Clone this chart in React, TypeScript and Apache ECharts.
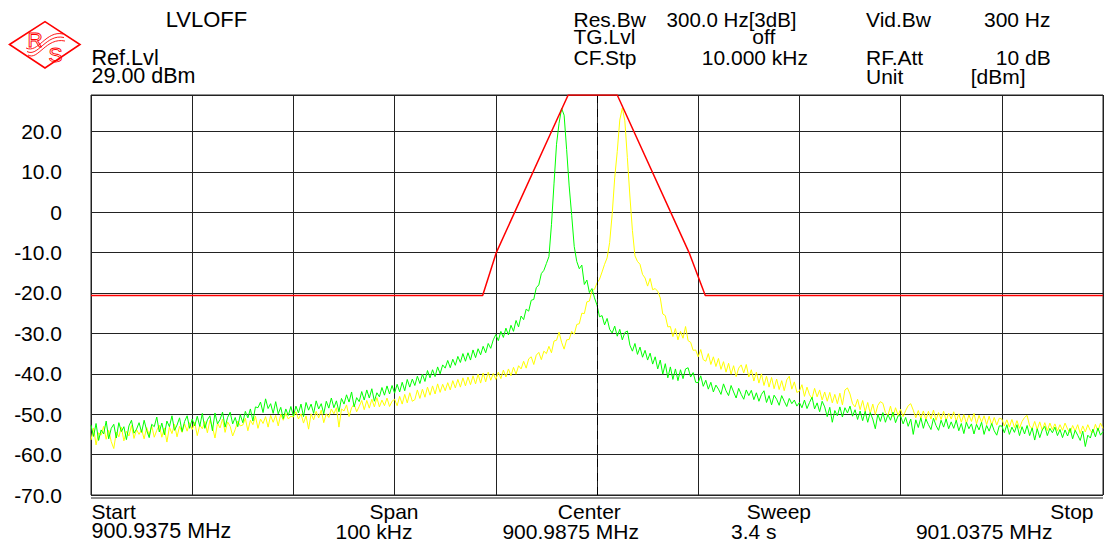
import React, { useEffect, useRef } from "react";
import * as echarts from "echarts";

// frequency offset from Start, in kHz (span 100 kHz), sample step
const STEP_KHZ = 0.25;

// trace 1 (green), dBm, one value every 0.25 kHz from 0 to 100 kHz
const GREEN = [
  -52.7, -55.5, -52.3, -56.5, -53.9, -54.9, -51.7, -56.1, -53.5, -52.5, -55.9, -52.1, -54.3, -53.1, -56.3, -52.9, -51.5, -54.7, -53.7, -52.1,
  -54.5, -51.5, -54.0, -55.8, -52.5, -53.1, -50.7, -54.4, -52.2, -55.1, -51.7, -53.1, -50.4, -54.0, -52.7, -50.9, -54.3, -51.8, -50.4, -53.5,
  -51.2, -52.9, -50.5, -53.0, -49.8, -53.5, -51.4, -50.4, -54.1, -49.7, -52.4, -51.3, -49.5, -53.2, -50.8, -49.5, -52.4, -50.8, -53.1, -50.1,
  -52.1, -49.3, -50.9, -48.7, -51.7, -48.2, -48.4, -47.0, -49.6, -46.2, -48.6, -47.4, -49.8, -46.9, -49.9, -48.3, -51.1, -48.7, -50.3, -48.1,
  -50.5, -48.0, -49.7, -47.5, -50.6, -47.1, -49.0, -47.5, -49.8, -46.7, -48.7, -47.4, -49.9, -46.8, -48.5, -46.0, -48.4, -46.7, -49.4, -46.1,
  -47.5, -45.2, -47.0, -44.5, -48.2, -45.9, -46.9, -44.4, -46.5, -44.0, -46.0, -43.7, -46.8, -44.7, -45.7, -43.4, -45.3, -43.0, -45.0, -42.9,
  -44.8, -42.6, -44.5, -42.1, -44.2, -41.4, -43.3, -41.3, -42.9, -40.6, -42.4, -40.1, -41.9, -39.2, -41.0, -39.0, -40.7, -38.3, -40.0, -37.8,
  -38.6, -36.7, -38.5, -36.4, -37.9, -35.7, -37.2, -35.0, -36.9, -34.8, -36.6, -34.1, -36.0, -33.8, -35.3, -33.2, -34.8, -32.5, -33.7, -31.6,
  -30.3, -31.8, -29.5, -31.0, -28.7, -30.4, -28.0, -29.5, -26.8, -28.4, -25.7, -26.6, -24.0, -24.5, -21.8, -21.6, -18.7, -18.0, -15.2, -14.4,
  -12.7, -11.0, -3.1, 7.0, 16.8, 22.0, 25.7, 24.0, 15.5, 6.5, -0.8, -8.5, -12.2, -14.0, -13.1, -17.9, -16.8, -19.9, -18.9, -21.2,
  -23.0, -25.9, -25.6, -27.9, -26.3, -29.0, -29.9, -28.2, -30.7, -29.0, -31.6, -29.8, -29.4, -32.9, -34.4, -32.5, -35.2, -33.4, -35.9, -34.2,
  -36.6, -34.9, -37.6, -35.8, -38.8, -36.6, -40.1, -37.5, -41.0, -38.3, -41.4, -38.8, -41.7, -39.0, -41.2, -38.8, -38.5, -40.8, -39.7, -42.1,
  -42.2, -40.5, -43.1, -41.6, -43.8, -42.1, -44.5, -42.8, -43.8, -45.1, -42.5, -44.2, -45.4, -42.9, -44.5, -46.0, -43.6, -45.1, -46.3, -44.0,
  -45.4, -44.1, -46.4, -44.7, -46.8, -45.1, -44.2, -47.1, -45.4, -47.7, -45.3, -46.3, -47.8, -45.4, -46.8, -48.1, -46.1, -47.4, -46.5, -48.0,
  -47.1, -48.4, -46.5, -48.6, -47.1, -45.8, -48.7, -47.2, -49.4, -46.8, -48.2, -50.6, -48.3, -52.0, -49.1, -50.4, -48.2, -50.7, -48.4, -49.7,
  -48.0, -50.5, -48.9, -51.3, -49.2, -51.6, -49.3, -52.0, -49.6, -51.2, -53.6, -50.0, -51.8, -49.6, -52.0, -50.1, -51.5, -49.5, -52.1, -50.4,
  -50.4, -52.4, -50.8, -53.0, -51.2, -55.0, -51.4, -53.3, -50.9, -53.5, -51.2, -52.6, -53.8, -51.0, -52.8, -54.0, -51.5, -53.2, -51.2, -53.6,
  -51.9, -53.5, -51.5, -54.1, -52.3, -54.8, -52.0, -53.6, -52.4, -54.9, -52.5, -53.9, -52.0, -55.0, -52.8, -54.2, -52.3, -54.1, -55.2, -52.9,
  -52.9, -54.6, -52.6, -55.0, -53.2, -54.5, -52.6, -55.3, -53.1, -54.9, -52.8, -55.3, -53.4, -56.4, -53.6, -55.8, -53.9, -53.0, -55.3, -53.5,
  -54.6, -53.2, -55.3, -53.8, -55.8, -53.9, -55.4, -53.5, -56.1, -54.0, -55.2, -56.5, -54.2, -58.0, -55.2, -55.9, -53.7, -55.6, -53.4, -55.2, -54.3,
];

// trace 2 (yellow), dBm, same frequency grid
const YELLOW = [
  -56.4, -53.4, -57.6, -54.6, -55.2, -53.0, -56.2, -54.0, -56.8, -58.5, -54.4, -55.6, -53.2, -56.6, -54.2, -55.4, -52.8, -56.0, -53.8, -55.0,
  -53.8, -56.1, -53.3, -55.2, -52.9, -55.7, -54.0, -52.7, -55.7, -53.4, -56.9, -53.2, -54.8, -52.5, -55.6, -53.0, -54.5, -52.4, -54.2, -52.1,
  -53.8, -52.0, -55.3, -52.7, -53.6, -51.8, -54.6, -51.5, -53.1, -55.9, -52.2, -53.4, -51.2, -54.5, -51.9, -53.0, -55.4, -53.8, -51.7, -52.9,
  -52.7, -51.0, -54.1, -51.5, -52.6, -50.5, -53.5, -51.2, -52.3, -50.6, -53.2, -50.3, -52.0, -50.3, -52.9, -50.0, -51.5, -49.8, -51.2, -50.5,
  -50.7, -49.4, -51.2, -49.9, -52.2, -50.4, -53.7, -49.9, -51.4, -49.3, -50.9, -49.0, -52.1, -49.9, -50.8, -48.7, -49.9, -48.4, -53.2, -48.7,
  -49.2, -47.7, -50.6, -48.4, -47.5, -49.4, -48.1, -46.6, -48.9, -46.6, -48.5, -46.3, -48.2, -45.9, -48.2, -46.5, -47.9, -46.0, -48.1, -46.8,
  -46.3, -47.9, -45.6, -47.5, -45.1, -47.2, -44.7, -46.8, -46.4, -44.0, -46.1, -43.8, -45.8, -43.3, -45.3, -43.0, -45.0, -42.5, -44.6, -42.6,
  -44.2, -42.2, -44.0, -41.7, -43.5, -41.4, -43.3, -41.0, -43.0, -40.8, -42.7, -40.5, -42.5, -40.1, -42.3, -39.8, -42.0, -39.6, -41.6, -39.9,
  -41.4, -39.6, -41.2, -39.1, -40.8, -38.8, -40.5, -38.4, -40.1, -38.0, -38.8, -36.9, -38.6, -36.3, -35.8, -37.7, -35.4, -34.7, -36.5, -34.4,
  -35.0, -33.2, -34.8, -31.9, -31.7, -29.7, -32.2, -33.9, -31.6, -31.5, -29.5, -30.2, -27.8, -27.6, -25.0, -25.1, -22.2, -22.0, -19.4, -19.1,
  -17.5, -16.6, -14.8, -12.9, -11.3, -7.5, -0.5, 8.5, 15.0, 22.8, 25.8, 22.6, 13.5, 4.0, -4.5, -10.8, -12.2, -12.9, -15.4, -16.3,
  -18.3, -16.4, -19.2, -18.9, -19.6, -21.2, -25.2, -25.6, -28.4, -28.3, -30.8, -28.8, -31.6, -29.5, -31.2, -28.3, -31.8, -32.2, -34.2, -34.1,
  -35.8, -34.0, -36.5, -36.9, -35.0, -37.7, -35.8, -38.2, -36.2, -38.9, -37.0, -39.6, -37.4, -40.1, -38.0, -40.7, -38.6, -37.8, -39.8, -37.7,
  -40.8, -39.0, -41.8, -39.6, -42.3, -40.0, -42.9, -40.6, -43.3, -40.9, -43.7, -41.3, -43.9, -41.7, -44.2, -41.5, -40.6, -43.8, -42.0, -44.6,
  -44.3, -42.7, -45.6, -43.3, -45.2, -46.1, -43.6, -45.7, -44.0, -46.5, -44.5, -46.8, -44.6, -47.2, -45.1, -47.4, -44.8, -47.7, -44.0, -43.5,
  -45.0, -47.4, -48.2, -46.3, -48.9, -46.6, -49.4, -47.1, -49.8, -47.5, -50.1, -47.8, -46.9, -47.3, -49.6, -50.3, -48.0, -50.6, -48.4, -50.3,
  -48.8, -50.6, -49.1, -47.9, -47.4, -49.0, -50.9, -49.1, -51.1, -49.2, -51.4, -49.3, -51.2, -49.0, -51.5, -49.6, -51.3, -49.3, -51.6, -49.8,
  -51.2, -49.4, -51.8, -49.9, -52.0, -50.1, -52.3, -50.2, -51.8, -49.8, -52.4, -50.3, -52.0, -50.4, -52.6, -50.5, -52.7, -50.8, -52.7, -51.0,
  -51.2, -52.9, -51.4, -53.2, -51.3, -53.3, -51.6, -53.5, -51.8, -50.8, -50.3, -52.9, -53.6, -51.8, -53.8, -51.9, -54.0, -52.1, -54.1, -52.2,
  -53.8, -52.4, -54.2, -52.6, -54.0, -52.2, -53.7, -54.6, -52.8, -54.2, -52.6, -54.8, -52.9, -54.4, -52.6, -54.1, -54.6, -52.5, -54.2, -52.2, -53.5,
];

// limit line (red)
const LIMIT_X = [0, 38.7, 40.05, 47.15, 52.0, 59.1, 60.7, 100];
const LIMIT_Y = [-20.6, -20.6, -10, 29, 29, -10, -20.6, -20.6];

const REF_LEVEL = 29;
const Y_MIN = -70;
const Y_INTERVAL = 10;
const CENTER_KHZ = 50;

const HEADER = [
  { text: "LVLOFF", x: 165.7, y: 19, align: "left", size: 22 },
  { text: "Ref.Lvl", x: 91.5, y: 57, align: "left", size: 21.6 },
  { text: "29.00 dBm", x: 91.5, y: 76, align: "left", size: 21.5 },
  { text: "Res.Bw", x: 573.5, y: 19.5, align: "left", size: 21 },
  { text: "300.0 Hz[3dB]", x: 796.5, y: 19.5, align: "right", size: 20.5 },
  { text: "TG.Lvl", x: 573.5, y: 36.5, align: "left", size: 21 },
  { text: "off", x: 752.3, y: 36.5, align: "left", size: 21 },
  { text: "CF.Stp", x: 573.5, y: 57, align: "left", size: 21 },
  { text: "10.000 kHz", x: 808, y: 57, align: "right", size: 21 },
  { text: "Vid.Bw", x: 866, y: 19.5, align: "left", size: 21 },
  { text: "300 Hz", x: 1050.5, y: 19.5, align: "right", size: 21 },
  { text: "RF.Att", x: 866, y: 57, align: "left", size: 21 },
  { text: "10 dB", x: 1050.7, y: 57, align: "right", size: 21 },
  { text: "Unit", x: 866, y: 76.5, align: "left", size: 21 },
  { text: "[dBm]", x: 970.7, y: 76.5, align: "left", size: 21 },
  { text: "Start", x: 91.5, y: 511.5, align: "left", size: 21 },
  { text: "900.9375 MHz", x: 91.5, y: 531, align: "left", size: 21.5 },
  { text: "Span", x: 418.5, y: 511.5, align: "right", size: 21 },
  { text: "100 kHz", x: 412.5, y: 531, align: "right", size: 21 },
  { text: "Center", x: 557.8, y: 511.5, align: "left", size: 21 },
  { text: "900.9875 MHz", x: 502.4, y: 531, align: "left", size: 21 },
  { text: "Sweep", x: 811, y: 511.5, align: "right", size: 21 },
  { text: "3.4 s", x: 731, y: 531, align: "left", size: 21 },
  { text: "Stop", x: 1093.5, y: 511.5, align: "right", size: 21 },
  { text: "901.0375 MHz", x: 1052.5, y: 531, align: "right", size: 21 },
];

const FONT_FAMILY = "'Liberation Sans', Arial, Helvetica, sans-serif";

export default function App() {
  const ref = useRef<HTMLDivElement>(null);

  useEffect(() => {
    if (!ref.current) return;
    const chart = echarts.init(ref.current, null, { renderer: "svg" });

    const green = GREEN.map((v, i) => [i * STEP_KHZ, v]);
    const yellow = YELLOW.map((v, i) => [i * STEP_KHZ, v]);
    const limit = LIMIT_X.map((x, i) => [x, LIMIT_Y[i]]);

    const texts = HEADER.map((h) => ({
      type: "text",
      x: h.x,
      y: h.y,
      silent: true,
      style: {
        text: h.text,
        fill: "#000",
        font: `${h.size}px ${FONT_FAMILY}`,
        align: h.align,
        textAlign: h.align,
        verticalAlign: "middle",
        textVerticalAlign: "middle",
      },
    }));

    const red = "#ff0000";
    const logo: any[] = [
      {
        type: "polygon",
        shape: { points: [[9.5, 44.5], [45, 21.7], [80, 44.5], [45, 68]] },
        style: { fill: "none", stroke: red, lineWidth: 1.6 },
        silent: true,
      },
      {
        type: "text",
        x: 35,
        y: 39.5,
        silent: true,
        style: { text: "R", fill: "none", stroke: red, lineWidth: 0.9, font: `21px ${FONT_FAMILY}`, align: "center", textAlign: "center", verticalAlign: "middle", textVerticalAlign: "middle" },
      },
      {
        type: "text",
        x: 55.5,
        y: 54.5,
        silent: true,
        style: { text: "S", fill: "none", stroke: red, lineWidth: 0.9, font: `21px ${FONT_FAMILY}`, align: "center", textAlign: "center", verticalAlign: "middle", textVerticalAlign: "middle" },
      },
    ];
    for (let k = 0; k < 3; k++) {
      logo.push({
        type: "bezierCurve",
        silent: true,
        shape: {
          x1: 26 + k, y1: 48 + 3.5 * k,
          cpx1: 38, cpy1: 54 + 3.5 * k,
          cpx2: 46, cpy2: 30 + 3.5 * k,
          x2: 63 + k, y2: 34 + 3.5 * k,
        },
        style: { fill: "none", stroke: red, lineWidth: 0.9 },
      });
    }

    chart.setOption({
      animation: false,
      backgroundColor: "#ffffff",
      grid: {
        left: 91,
        top: 95,
        width: 1012,
        height: 400,
        show: true,
        borderColor: "#222",
        borderWidth: 1,
        backgroundColor: "transparent",
      },
      xAxis: {
        type: "value",
        min: 0,
        max: 100,
        interval: 10,
        axisLine: { show: false },
        axisTick: { show: true, inside: false, length: 3, lineStyle: { color: "#222" } },
        axisLabel: { show: false },
        splitLine: { show: true, lineStyle: { color: "#222", width: 1 } },
      },
      yAxis: {
        type: "value",
        min: Y_MIN,
        max: REF_LEVEL,
        interval: Y_INTERVAL,
        axisLine: { show: false },
        axisTick: { show: false },
        axisLabel: {
          margin: 29,
          color: "#000",
          fontSize: 21,
          fontFamily: FONT_FAMILY,
          showMaxLabel: false,
          formatter: (v: number) => {
            if (Math.abs(v % 10) > 1e-6) return "";
            if (v === 0) return "0";
            return v.toFixed(1);
          },
        },
        splitLine: { show: true, lineStyle: { color: "#222", width: 1 } },
      },
      graphic: [
        ...logo,
        ...texts,
        {
          type: "line",
          silent: true,
          shape: { x1: 91, y1: 498, x2: 1103, y2: 498 },
          style: { stroke: "#222", lineWidth: 1 },
        },
      ],
      series: [
        {
          type: "line",
          name: "Trace 2",
          data: yellow,
          symbol: "none",
          lineStyle: { color: "#ffff00", width: 1 },
          clip: true,
          z: 3,
        },
        {
          type: "line",
          name: "Trace 1",
          data: green,
          symbol: "none",
          lineStyle: { color: "#00ff00", width: 1 },
          clip: true,
          z: 4,
        },
        {
          type: "line",
          name: "Limit",
          data: limit,
          symbol: "none",
          lineStyle: { color: red, width: 1.5 },
          clip: true,
          z: 5,
          markLine: {
            silent: true,
            symbol: ["none", "none"],
            label: { show: false },
            lineStyle: { color: "#000", type: [8, 6], width: 1 },
            data: [{ xAxis: CENTER_KHZ }],
          },
        },
      ],
    });

    return () => chart.dispose();
  }, []);

  return (
    <div
      ref={ref}
      style={{ position: "fixed", left: 0, top: 0, width: 1104, height: 546, background: "#fff" }}
    />
  );
}
